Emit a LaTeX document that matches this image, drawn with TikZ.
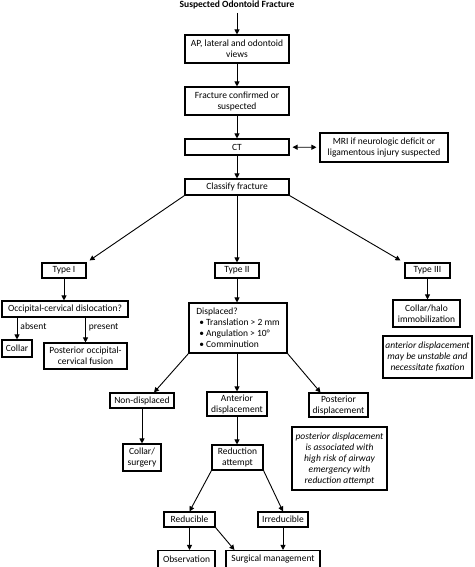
\documentclass[tikz,border=0pt]{standalone}
\usepackage{fontspec}
\setmainfont{Carlito}
\usetikzlibrary{calc,arrows.meta}

\begin{document}
\begin{tikzpicture}[x=1pt, y=-1pt, line width=0.9pt,
  box/.style={draw, line width=1.1pt, inner sep=1pt, align=center,
    font=\fontsize{9.5}{11}\selectfont},
  note/.style={box, font=\fontsize{9.5}{11}\selectfont\itshape},
  sz/.style 2 args={minimum width=#1pt, minimum height=#2pt},
  lbl/.style={font=\fontsize{9.5}{11}\selectfont, inner sep=3pt},
  arr/.style={-{Triangle[length=5pt,width=5pt]}}]
  \useasboundingbox (0,0) rectangle (474,567);

  % trunk
  \node[font=\fontsize{9.5}{11}\selectfont\bfseries] (title) at (237,5) {Suspected Odontoid Fracture};
  \node[box, sz={104}{28}] (ap) at (237,49) {AP, lateral and odontoid\\views};
  \node[box, sz={104}{28}] (frac) at (237,101) {Fracture confirmed or\\suspected};
  \node[box, sz={104}{16}] (ct) at (237,147) {CT};
  \node[box, sz={128}{29}] (mri) at (384,147.5) {MRI if neurologic deficit or\\ligamentous injury suspected};
  \node[box, sz={104}{16}] (cls) at (237,187) {Classify fracture};

  % three types
  \node[box, sz={44}{15}] (t1) at (64,270.5) {Type I};
  \node[box, sz={44}{15}] (t2) at (237,270.5) {Type II};
  \node[box, sz={45}{15}] (t3) at (427.5,270.5) {Type III};

  % type I branch
  \node[box, sz={126}{16}] (occ) at (65,309) {Occipital-cervical dislocation?};
  \node[box, sz={30}{17}] (collar) at (17,348.5) {Collar};
  \node[box, sz={83}{26}] (fus) at (85.5,356) {Posterior occipital-\\cervical fusion};

  % type II branch
  \node[box, align=left, sz={98}{50}] (disp) at (238,328)
    {Displaced?\\\hspace*{3pt}•~Translation~>~2~mm\\\hspace*{3pt}•~Angulation~>~10°\\\hspace*{3pt}•~Comminution};
  \node[box, sz={64}{15}] (nond) at (142,400.5) {Non-displaced};
  \node[box, sz={60}{24}] (ant) at (237,404) {Anterior\\displacement};
  \node[box, sz={59}{24}] (post) at (338.5,405) {Posterior\\displacement};
  \node[box, sz={38}{27}] (csurg) at (142,457.5) {Collar/\\surgery};
  \node[box, sz={51}{25}] (red) at (237.5,457.5) {Reduction\\attempt};
  \node[note, sz={95}{63}] (npost) at (339.5,458.5) {posterior displacement\\is associated with\\high risk of airway\\emergency with\\reduction attempt};
  \node[box, sz={51}{15}] (redu) at (189.5,519.5) {Reducible};
  \node[box, sz={50}{15}] (irr) at (283,519.5) {Irreducible};
  \node[box, sz={57}{17}] (obs) at (186.5,559) {Observation};
  \node[box, sz={94}{17}] (surg) at (273,559) {Surgical management};

  % type III branch
  \node[box, sz={67}{27}] (halo) at (426.5,313.5) {Collar/halo\\immobilization};
  \node[note, sz={89}{42}] (nant) at (427.5,357) {anterior displacement\\may be unstable and\\necessitate fixation};

  % connectors
  \draw[arr] (title) -- (ap);
  \draw[arr] (ap) -- (frac);
  \draw[arr] (frac) -- (ct);
  \draw[arr] (ct) -- (cls);
  \draw[{Triangle[length=5pt,width=5pt]}-{Triangle[length=5pt,width=5pt]}, shorten <=3pt, shorten >=3pt] (ct) -- (mri);
  \draw[arr] (cls.south west) -- ($(t1.north east)+(3,-2)$);
  \draw[arr] (cls) -- (t2);
  \draw[arr] (cls.south east) -- ($(t3.north west)+(-4,-2)$);
  \draw[arr] (t1.south) -- (t1.south |- occ.north);
  \draw[arr] (occ.south -| collar.north) -- node[right, lbl, pos=0.4] {absent} (collar.north);
  \draw[arr] (occ.south -| fus.north) -- node[right, lbl, pos=0.4] {present} (fus.north);
  \draw[arr] (t2) -- (t2 |- disp.north);
  \draw[arr] (t3) -- (t3 |- halo.north);
  \draw[arr] (disp.south west) -- ($(nond.north)+(12,0)$);
  \draw[arr] (disp.south -| ant.north) -- (ant.north);
  \draw[arr] (disp.south east) -- ($(post.north)+(-18,0)$);
  \draw[arr] (nond) -- (csurg);
  \draw[arr] (ant) -- (ant |- red.north);
  \draw[arr] (red.south west) -- (redu.north);
  \draw[arr] (red.south east) -- (irr.north);
  \draw[arr] (redu.south) -- (redu.south |- obs.north);
  \draw[arr] (redu.south east) -- ($(surg.north west)+(9,0)$);
  \draw[arr] (irr.south) -- (irr.south |- surg.north);
\end{tikzpicture}
\end{document}
